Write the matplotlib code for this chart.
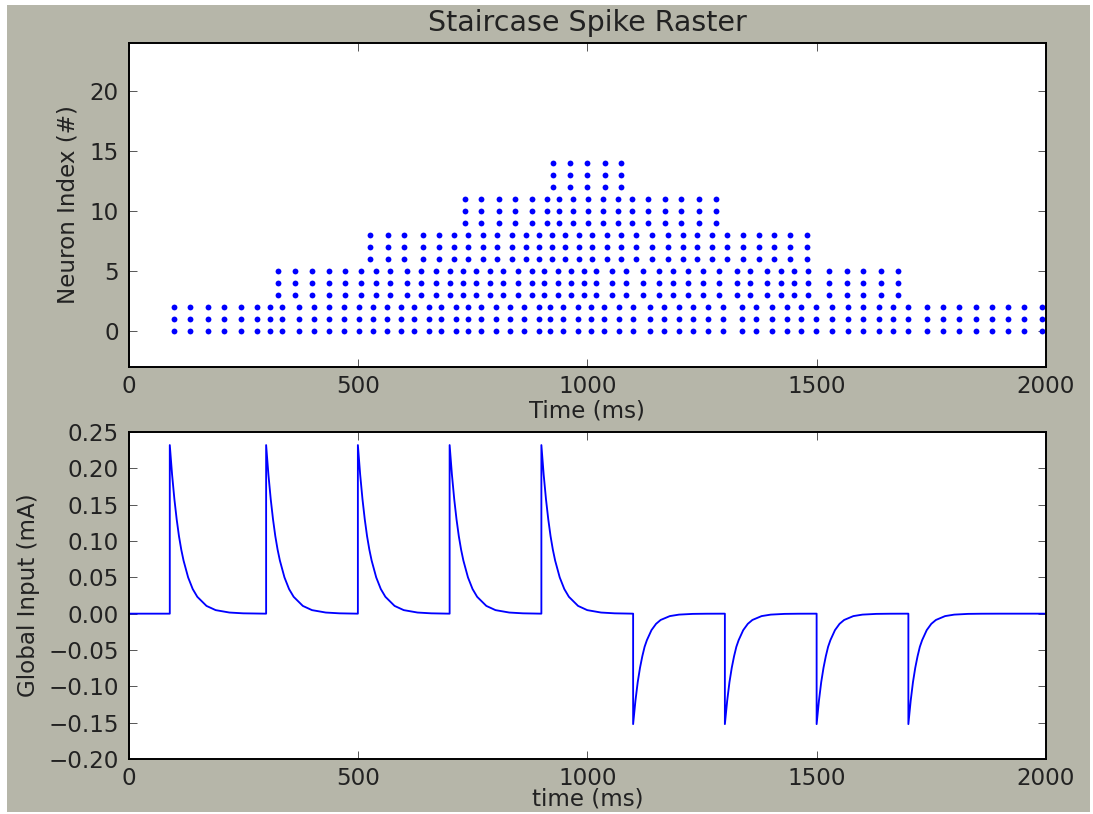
import matplotlib
matplotlib.use("Agg")
import matplotlib.pyplot as plt
from matplotlib.patches import Rectangle

# ---------------- data ----------------
# spike times (ms) for each group of three neurons (all three fire together)
group_neurons = [[0, 1, 2], [3, 4, 5], [6, 7, 8], [9, 10, 11], [12, 13, 14]]
group0_spikes = [99, 135, 174, 209, 245, 281, 309, 335, 372, 404, 436, 470, 503,
                 534, 563, 594, 622, 654, 681, 713, 741, 768, 800, 832, 863, 895,
                 919, 948, 979, 1008, 1037, 1070, 1100, 1137, 1167, 1199, 1231,
                 1264, 1297, 1337, 1368, 1402, 1435, 1466, 1498, 1534, 1569, 1602,
                 1636, 1667, 1700, 1740, 1775, 1811, 1847, 1883, 1918, 1953, 1991]
group1_spikes = [326, 364, 400, 436, 472, 507, 539, 570, 606, 638, 671, 701, 729,
                 757, 788, 817, 848, 879, 906, 936, 965, 994, 1018, 1053, 1085,
                 1122, 1156, 1188, 1219, 1253, 1287, 1326, 1355, 1391, 1422, 1451,
                 1482, 1526, 1566, 1602, 1640, 1678]
group2_spikes = [526, 566, 601, 641, 676, 710, 741, 773, 804, 835, 867, 895, 924,
                 952, 982, 1010, 1042, 1074, 1106, 1141, 1177, 1208, 1240, 1271,
                 1304, 1339, 1374, 1408, 1442, 1478]
group3_spikes = [734, 768, 808, 843, 879, 912, 938, 970, 1002, 1034, 1066, 1097,
                 1133, 1170, 1204, 1244, 1280]
group4_spikes = [926, 962, 999, 1039, 1074]
group_spikes = [group0_spikes, group1_spikes, group2_spikes, group3_spikes, group4_spikes]

# global input pulses: onset time (ms) and peak amplitude (mA)
pulse_onsets = [90, 300, 500, 700, 900, 1100, 1300, 1500, 1700]
pulse_amps = [0.232, 0.232, 0.232, 0.232, 0.232, -0.152, -0.152, -0.152, -0.152]
# decay shape after each pulse (fraction of peak)
decay_offsets = [0, 5, 10, 15, 20, 25, 30, 40, 50, 60, 80, 100, 130, 160, 199]
pos_decay = [1.0, 0.825, 0.68, 0.56, 0.46, 0.38, 0.315, 0.215, 0.146, 0.10,
             0.046, 0.021, 0.0067, 0.002, 0.0]
neg_decay = [1.0, 0.79, 0.62, 0.49, 0.386, 0.30, 0.24, 0.149, 0.092, 0.057,
             0.022, 0.0086, 0.002, 0.0005, 0.0]

x_ticks = [0, 500, 1000, 1500, 2000]
raster_yticks = [0, 5, 10, 15, 20]
input_yticks = [-0.20, -0.15, -0.10, -0.05, 0.00, 0.05, 0.10, 0.15, 0.20, 0.25]

# ---------------- style ----------------
DPI = 140
plt.rcParams.update({
    "font.family": "DejaVu Sans",
    "font.size": 11.8,
    "xtick.direction": "in",
    "ytick.direction": "in",
    "xtick.top": True,
    "ytick.right": True,
    "xtick.major.size": 4,
    "ytick.major.size": 4,
    "xtick.major.width": 0.5,
    "ytick.major.width": 0.5,
    "xtick.major.pad": 4,
    "ytick.major.pad": 5,
    "axes.linewidth": 1.0,
    "text.color": "#222222",
    "axes.labelcolor": "#222222",
    "xtick.labelcolor": "#222222",
    "ytick.labelcolor": "#222222",
})

fig = plt.figure(figsize=(1093 / DPI, 814 / DPI), dpi=DPI, facecolor="white")
fig.patches.append(Rectangle((7 / 1093, 2 / 814), 1083 / 1093, 807 / 814,
                             transform=fig.transFigure, facecolor="#b6b6a9",
                             edgecolor="none", zorder=-10))

L, W = 128.5 / 1093, 917.5 / 1093
ax1 = fig.add_axes([L, 1 - 367 / 814, W, 324 / 814])
ax2 = fig.add_axes([L, 1 - 759 / 814, W, 327 / 814])

# raster
for neurons, spikes in zip(group_neurons, group_spikes):
    for n in neurons:
        ax1.plot(spikes, [n] * len(spikes), linestyle="none", marker="o",
                 markersize=3.0, markeredgewidth=0, color="#0000ff")
ax1.set_xlim(0, 2000)
ax1.set_ylim(-3, 24)
ax1.set_xticks(x_ticks)
ax1.set_yticks(raster_yticks)
ax1.set_xlabel("Time (ms)", labelpad=1)
ax1.set_ylabel("Neuron Index (#)", labelpad=5)
ax1.set_title("Staircase Spike Raster", fontsize=14.7, pad=6)

# global input trace
t_curve = [0]
i_curve = [0.0]
for onset, amp in zip(pulse_onsets, pulse_amps):
    shape = pos_decay if amp > 0 else neg_decay
    t_curve.append(onset)
    i_curve.append(0.0)
    for off, frac in zip(decay_offsets, shape):
        t_curve.append(onset + off)
        i_curve.append(amp * frac)
t_curve.append(2000)
i_curve.append(0.0)

ax2.plot(t_curve, i_curve, color="#0000ff", linewidth=0.95)
ax2.set_xlim(0, 2000)
ax2.set_ylim(-0.20, 0.25)
ax2.set_xticks(x_ticks)
ax2.set_yticks(input_yticks)
ax2.set_yticklabels([f"{v:.2f}".replace("-", "\u2212") for v in input_yticks])
ax2.set_xlabel("time (ms)", labelpad=-1)
ax2.set_ylabel("Global Input (mA)", labelpad=4)

for ax in (ax1, ax2):
    ax.tick_params(colors="#555555", labelcolor="#222222")

fig.savefig("out.png", dpi=DPI, facecolor=fig.get_facecolor())
